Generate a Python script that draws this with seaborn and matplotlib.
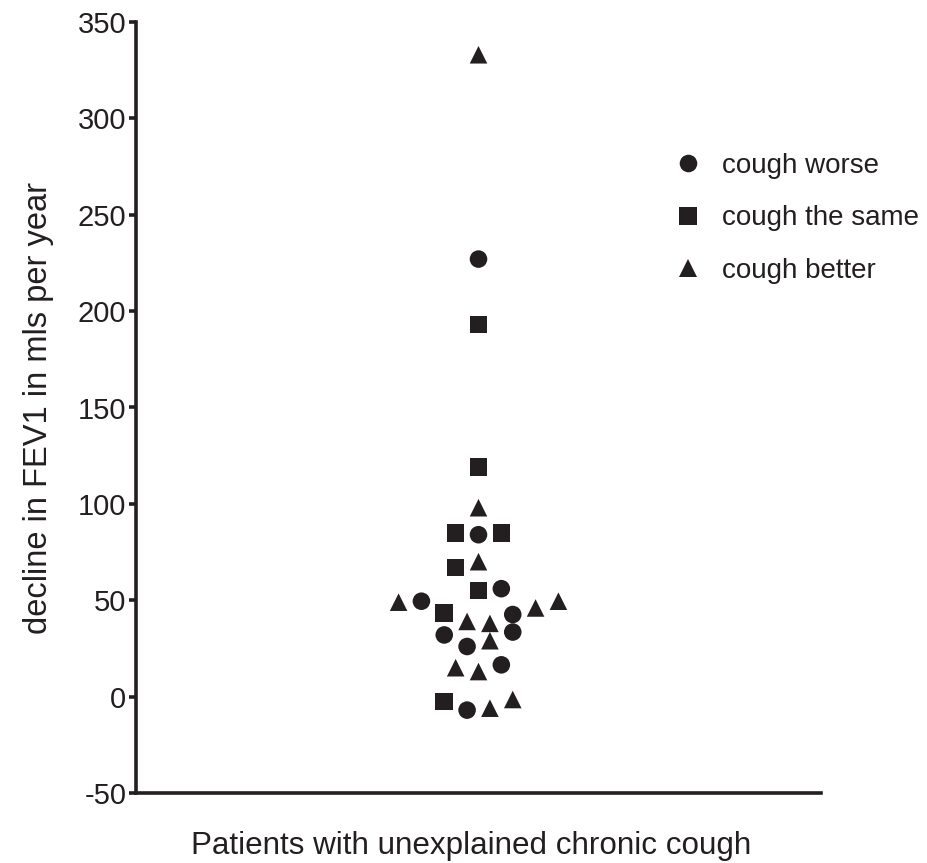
import matplotlib
matplotlib.use("Agg")
import matplotlib.pyplot as plt
import seaborn as sns
import pandas as pd

# Change in cough status for each patient
status = [
    "cough better", "cough worse", "cough the same", "cough the same",
    "cough better", "cough the same", "cough worse", "cough the same",
    "cough the same", "cough better", "cough the same", "cough worse",
    "cough better", "cough worse", "cough better", "cough better",
    "cough the same", "cough worse", "cough better", "cough better",
    "cough worse", "cough worse", "cough better", "cough worse",
    "cough better", "cough better", "cough worse", "cough the same",
    "cough worse", "cough better", "cough better",
]
# Annual decline in FEV1 (ml per year)
decline = [
    333, 227, 193, 119,
    98, 85, 84, 85,
    67, 70, 55, 56,
    49, 49.5, 49.5, 46,
    43.5, 42.6, 39, 38,
    32, 33.5, 29, 26,
    15, 13, 16.5, -2.5,
    -7, -6, -1.5,
]
# Horizontal spread of each point within the single column
spread = [
    0, 0, 0, 0,
    0, -2, 0, 2,
    -2, 0, 0, 2,
    -7, -5, 7, 5,
    -3, 3, -1, 1,
    -3, 3, 1, -1,
    -2, 0, 2, -3,
    -1, 1, 3,
]
legend_order = ["cough worse", "cough the same", "cough better"]
marker_map = {"cough worse": "o", "cough the same": "s", "cough better": "^"}
yticks = [-50, 0, 50, 100, 150, 200, 250, 300, 350]

df = pd.DataFrame({"status": status, "decline": decline, "spread": spread})

sns.set_theme(style="white")
plt.rcParams["font.family"] = ["Liberation Sans", "DejaVu Sans"]
ink = "#231f20"

fig = plt.figure(figsize=(9.27, 8.63), dpi=100)
ax = fig.add_axes([136 / 927, 1 - 793 / 863, (821 - 136) / 927, (793 - 22) / 863])

sns.scatterplot(
    data=df, x="spread", y="decline", style="status",
    style_order=legend_order, markers=marker_map,
    color=ink, s=160, linewidth=0, ax=ax, legend=True,
)

ax.set_xlim(-30, 30)
ax.set_ylim(-50, 350)
ax.set_yticks(yticks)
ax.set_yticklabels([str(v) for v in yticks])
ax.set_xticks([])

for side in ["top", "right"]:
    ax.spines[side].set_visible(False)
for side in ["left", "bottom"]:
    ax.spines[side].set_color(ink)
    ax.spines[side].set_linewidth(2.6)

ax.tick_params(axis="y", which="major", direction="out", length=5, width=2.6,
               color=ink, labelsize=21, labelcolor=ink, pad=2, left=True)

ax.set_xlabel("Patients with unexplained chronic cough", fontsize=22.6,
              color=ink, labelpad=27, x=0.489)
ax.set_ylabel("decline in FEV1 in mls per year", fontsize=23.5,
              color=ink, labelpad=17)

handles, labels = ax.get_legend_handles_labels()
leg = ax.legend(
    handles, labels, loc="upper left", bbox_to_anchor=(0.765, 0.830),
    frameon=False, fontsize=20, labelspacing=0.95, handletextpad=0.22,
    markerscale=1.0, borderpad=0, borderaxespad=0,
)
for t in leg.get_texts():
    t.set_color(ink)

fig.savefig("out.png", dpi=100)
